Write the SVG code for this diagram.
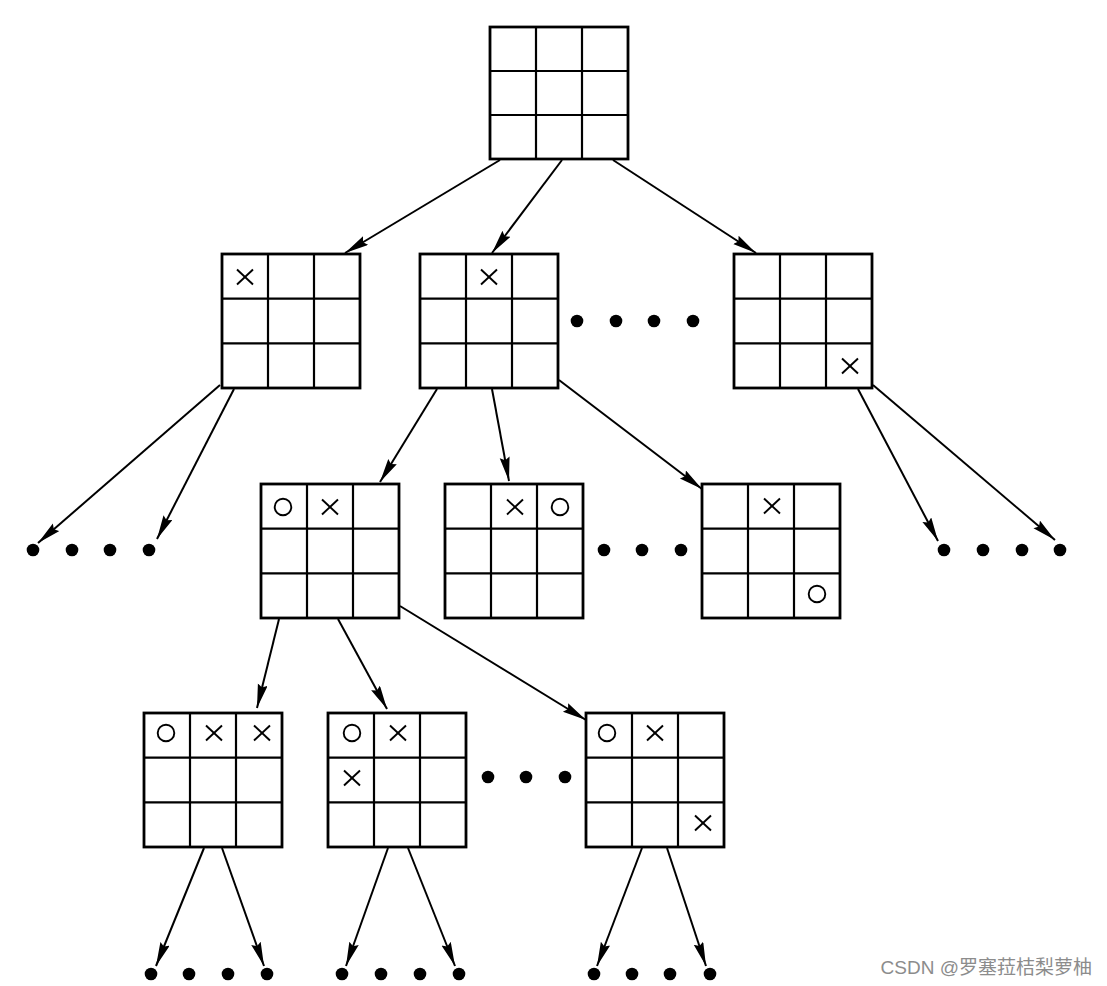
<svg xmlns="http://www.w3.org/2000/svg" xmlns:xlink="http://www.w3.org/1999/xlink" width="1107" height="986" viewBox="0 0 1107 986">
<style>
.outer{fill:#fff;stroke:#000;stroke-width:2.8}
.inner{stroke:#000;stroke-width:2.2}
.xm{stroke:#000;stroke-width:1.9;fill:none}
.om{stroke:#000;stroke-width:1.9;fill:none}
.edge{stroke:#000;stroke-width:2;fill:none;marker-end:url(#arr)}
.dot{fill:#000}
.wm{font-family:"Liberation Sans","Noto Sans CJK SC",sans-serif;font-size:19px;fill:#8c8c8c}
</style>
<defs>
<marker id="arr" markerUnits="userSpaceOnUse" markerWidth="26" markerHeight="12" refX="24" refY="5" orient="auto">
<path d="M0,0 L24,5 L0,10 L3,5 z" fill="#000"/>
</marker>
<g id="board">
<rect class="outer" x="0" y="0" width="138" height="134"/>
<line class="inner" x1="46" y1="0" x2="46" y2="134"/>
<line class="inner" x1="92" y1="0" x2="92" y2="134"/>
<line class="inner" x1="0" y1="44.7" x2="138" y2="44.7"/>
<line class="inner" x1="0" y1="89.3" x2="138" y2="89.3"/>
</g>
<g id="X"><line class="xm" x1="-8" y1="-7.5" x2="8" y2="7.5"/><line class="xm" x1="-8" y1="7.5" x2="8" y2="-7.5"/></g>
<circle id="O" class="om" cx="0" cy="0" r="8.3"/>
</defs>
<rect width="1107" height="986" fill="#fff"/>

<g id="connectors">
<line class="edge" x1="500" y1="160" x2="345" y2="253"/>
<line class="edge" x1="562" y1="160" x2="492" y2="253"/>
<line class="edge" x1="613" y1="160" x2="756" y2="253"/>
<line class="edge" x1="220" y1="385" x2="38" y2="543"/>
<line class="edge" x1="234" y1="389" x2="157" y2="539"/>
<line class="edge" x1="858" y1="389" x2="938" y2="541"/>
<line class="edge" x1="873" y1="385" x2="1055" y2="540"/>
<line class="edge" x1="437" y1="389" x2="380" y2="482"/>
<line class="edge" x1="492" y1="389" x2="509" y2="481"/>
<line class="edge" x1="559" y1="380" x2="702" y2="489"/>
<line class="edge" x1="279" y1="619" x2="257" y2="708"/>
<line class="edge" x1="338" y1="619" x2="387" y2="709"/>
<line class="edge" x1="400" y1="606" x2="586" y2="720"/>
<line class="edge" x1="204" y1="848" x2="156" y2="966"/>
<line class="edge" x1="222" y1="848" x2="264" y2="966"/>
<line class="edge" x1="388" y1="848" x2="346" y2="966"/>
<line class="edge" x1="408" y1="848" x2="455" y2="966"/>
<line class="edge" x1="642" y1="848" x2="597" y2="966"/>
<line class="edge" x1="667" y1="848" x2="706" y2="966"/>
</g>

<g id="n_root"><use xlink:href="#board" href="#board" transform="translate(490,27) scale(1,0.985)"/></g>

<g id="n_l2a"><use xlink:href="#board" href="#board" x="222" y="254"/><use xlink:href="#X" href="#X" x="245" y="277"/></g>
<g id="n_l2b"><use xlink:href="#board" href="#board" x="420" y="254"/><use xlink:href="#X" href="#X" x="489" y="277"/></g>
<g id="n_l2c"><use xlink:href="#board" href="#board" x="734" y="254"/><use xlink:href="#X" href="#X" x="850" y="366"/></g>

<g id="n_l3a"><use xlink:href="#board" href="#board" x="261" y="484"/><use xlink:href="#O" href="#O" x="283" y="507"/><use xlink:href="#X" href="#X" x="330" y="507"/></g>
<g id="n_l3b"><use xlink:href="#board" href="#board" x="445" y="484"/><use xlink:href="#X" href="#X" x="515" y="507"/><use xlink:href="#O" href="#O" x="560" y="507"/></g>
<g id="n_l3c"><use xlink:href="#board" href="#board" x="702" y="484"/><use xlink:href="#X" href="#X" x="772" y="506"/><use xlink:href="#O" href="#O" x="817" y="594"/></g>

<g id="n_l4a"><use xlink:href="#board" href="#board" x="144" y="713"/><use xlink:href="#O" href="#O" x="166" y="733"/><use xlink:href="#X" href="#X" x="214" y="733"/><use xlink:href="#X" href="#X" x="262" y="733"/></g>
<g id="n_l4b"><use xlink:href="#board" href="#board" x="328" y="713"/><use xlink:href="#O" href="#O" x="352" y="733"/><use xlink:href="#X" href="#X" x="398" y="733"/><use xlink:href="#X" href="#X" x="352" y="778"/></g>
<g id="n_l4c"><use xlink:href="#board" href="#board" x="586" y="713"/><use xlink:href="#O" href="#O" x="607" y="733"/><use xlink:href="#X" href="#X" x="655" y="733"/><use xlink:href="#X" href="#X" x="703" y="823"/></g>

<g id="dots">
<circle class="dot" cx="577" cy="321" r="6.3"/><circle class="dot" cx="616" cy="321" r="6.3"/><circle class="dot" cx="654" cy="321" r="6.3"/><circle class="dot" cx="693" cy="321" r="6.3"/>
<circle class="dot" cx="33" cy="550" r="6.3"/><circle class="dot" cx="72" cy="550" r="6.3"/><circle class="dot" cx="110" cy="550" r="6.3"/><circle class="dot" cx="149" cy="550" r="6.3"/>
<circle class="dot" cx="944" cy="550" r="6.3"/><circle class="dot" cx="983" cy="550" r="6.3"/><circle class="dot" cx="1022" cy="550" r="6.3"/><circle class="dot" cx="1060" cy="550" r="6.3"/>
<circle class="dot" cx="604" cy="550" r="6.3"/><circle class="dot" cx="642" cy="550" r="6.3"/><circle class="dot" cx="681" cy="550" r="6.3"/>
<circle class="dot" cx="488" cy="777" r="6.3"/><circle class="dot" cx="526" cy="777" r="6.3"/><circle class="dot" cx="565" cy="777" r="6.3"/>
<circle class="dot" cx="151" cy="974" r="6.3"/><circle class="dot" cx="189" cy="974" r="6.3"/><circle class="dot" cx="228" cy="974" r="6.3"/><circle class="dot" cx="267" cy="974" r="6.3"/>
<circle class="dot" cx="342" cy="974" r="6.3"/><circle class="dot" cx="381" cy="974" r="6.3"/><circle class="dot" cx="420" cy="974" r="6.3"/><circle class="dot" cx="459" cy="974" r="6.3"/>
<circle class="dot" cx="594" cy="974" r="6.3"/><circle class="dot" cx="632" cy="974" r="6.3"/><circle class="dot" cx="670" cy="974" r="6.3"/><circle class="dot" cx="710" cy="974" r="6.3"/>
</g>

<text class="wm" x="1092" y="974" text-anchor="end">CSDN @罗塞菈桔梨萝柚</text>
</svg>
